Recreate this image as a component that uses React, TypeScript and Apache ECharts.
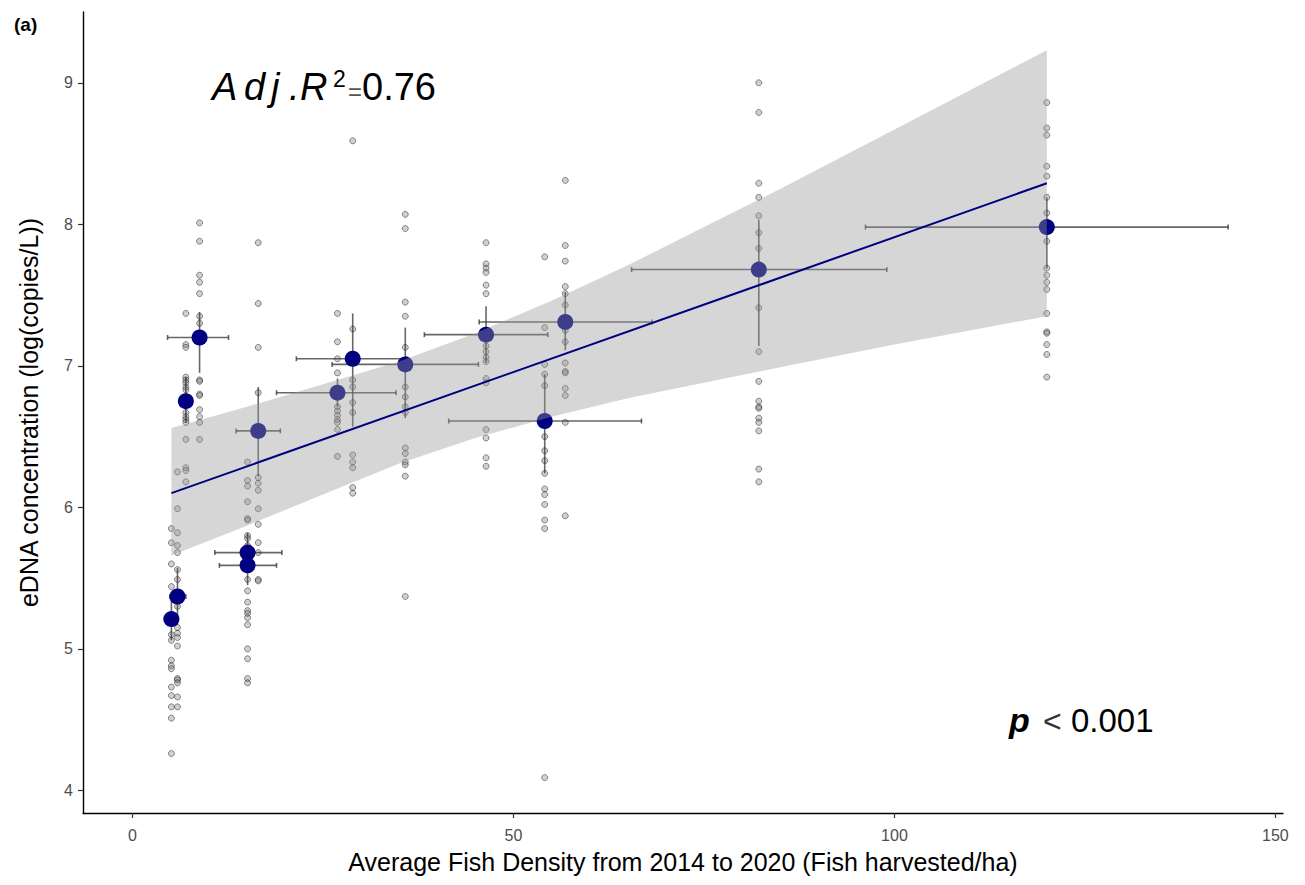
import React, { useEffect, useRef } from "react";
import * as echarts from "echarts";

const FONT = "Liberation Sans, Arial, sans-serif";

const xTicks = [0, 50, 100, 150];
const yTicks = [4, 5, 6, 7, 8, 9];

// site means and error bars
const siteX = [5.1, 5.9, 7.0, 8.8, 15.1, 15.1, 16.5, 26.9, 28.9, 35.8, 46.4, 54.1, 56.8, 82.2, 120];
const siteMean = [5.21, 5.37, 6.75, 7.2, 5.68, 5.59, 6.54, 6.81, 7.05, 7.01, 7.22, 6.61, 7.31, 7.68, 7.98];
const siteXLow = [4.2, 4.9, 6.5, 4.6, 10.8, 11.4, 13.6, 18.9, 21.5, 26.2, 38.3, 41.5, 45.5, 65.5, 96.2];
const siteXHigh = [6.0, 7.0, 7.5, 12.6, 19.6, 18.9, 19.4, 34.6, 36.0, 45.4, 54.5, 66.8, 68.2, 99.0, 143.8];
const siteYLow = [5.06, 5.17, 6.6, 6.95, 5.54, 5.45, 6.22, 6.71, 6.57, 6.63, 7.02, 6.24, 7.11, 7.14, 7.69];
const siteYHigh = [5.36, 5.57, 6.92, 7.38, 5.82, 5.73, 6.85, 6.91, 7.37, 7.27, 7.42, 6.94, 7.52, 8.03, 8.19];

// raw sample values per column
const rawX = [5.1, 5.9, 7.0, 8.8, 15.1, 16.5, 26.9, 28.9, 35.8, 46.4, 54.1, 56.8, 82.2, 120];
const rawY = [
  [5.85, 5.75, 5.6, 5.44, 5.2, 5.1, 5.06, 4.92, 4.88, 4.86, 4.73, 4.67, 4.59, 4.51, 4.26],
  [6.25, 5.99, 5.82, 5.73, 5.68, 5.56, 5.49, 5.3, 5.15, 5.11, 5.08, 5.02, 4.79, 4.78, 4.76, 4.66, 4.59],
  [7.37, 7.15, 7.13, 6.92, 6.9, 6.88, 6.85, 6.83, 6.67, 6.64, 6.62, 6.6, 6.48, 6.28, 6.26, 6.18],
  [8.01, 7.88, 7.64, 7.59, 7.51, 7.35, 7.3, 6.9, 6.89, 6.8, 6.79, 6.69, 6.64, 6.6, 6.48],
  [6.32, 6.19, 6.15, 6.04, 5.92, 5.91, 5.8, 5.78, 5.73, 5.65, 5.49, 5.41, 5.33, 5.27, 5.25, 5.22, 5.17, 5.0, 4.93, 4.79, 4.76],
  [7.87, 7.44, 7.13, 6.81, 6.21, 6.17, 6.12, 5.99, 5.88, 5.75, 5.68, 5.49, 5.48],
  [7.37, 7.17, 7.05, 6.95, 6.71, 6.68, 6.65, 6.62, 6.6, 6.55, 6.36],
  [8.59, 7.26, 6.9, 6.85, 6.74, 6.67, 6.37, 6.32, 6.28, 6.14, 6.1],
  [8.07, 7.97, 7.45, 7.35, 7.13, 6.85, 6.78, 6.71, 6.67, 6.42, 6.38, 6.32, 6.3, 6.22, 5.37],
  [7.87, 7.72, 7.69, 7.66, 7.57, 7.51, 7.14, 7.1, 7.06, 7.03, 6.91, 6.88, 6.55, 6.49, 6.35, 6.29],
  [7.77, 7.27, 7.01, 6.94, 6.86, 6.5, 6.4, 6.33, 6.24, 6.13, 6.09, 6.02, 5.91, 5.85, 4.09],
  [8.31, 7.85, 7.74, 7.56, 7.51, 7.43, 7.34, 7.25, 7.17, 7.02, 6.96, 6.95, 6.84, 6.79, 6.6, 5.94],
  [9.0, 8.79, 8.29, 8.19, 8.06, 7.94, 7.83, 7.41, 7.1, 6.89, 6.75, 6.71, 6.7, 6.63, 6.6, 6.54, 6.27, 6.18],
  [8.86, 8.68, 8.63, 8.41, 8.34, 8.19, 8.08, 7.88, 7.69, 7.64, 7.59, 7.54, 7.37, 7.24, 7.23, 7.15, 7.08, 6.92],
];

// fitted line and confidence band
const fitX = [5.1, 120];
const fitY = [6.1, 8.29];
const ribX = [5.1, 15, 25, 35, 45, 55, 65, 75, 85, 100, 120];
const ribLo = [5.66, 5.87, 6.09, 6.31, 6.49, 6.64, 6.77, 6.88, 6.99, 7.15, 7.35];
const ribHi = [6.56, 6.71, 6.87, 7.03, 7.23, 7.46, 7.71, 7.98, 8.25, 8.67, 9.23];

const xAxisTitle = "Average Fish Density from 2014 to 2020 (Fish harvested/ha)";
const yAxisTitle = "eDNA concentration (log(copies/L))";

function t(text: string, x: number, y: number, fontSize: number, extra: any = {}) {
  return {
    type: "text",
    x,
    y,
    style: { text, fontSize, fontFamily: FONT, fill: "#000", verticalAlign: "middle", align: "left", ...extra },
  };
}

export default function App() {
  const ref = useRef<HTMLDivElement>(null);
  useEffect(() => {
    if (!ref.current) return;
    const chart = echarts.init(ref.current, null, { renderer: "svg" });

    const rawData: number[][] = [];
    rawX.forEach((x, i) => rawY[i].forEach((y) => rawData.push([x, y])));
    const meanData = siteX.map((x, i) => [x, siteMean[i]]);
    const barData = siteX.map((x, i) => [x, siteMean[i], siteXLow[i], siteXHigh[i], siteYLow[i], siteYHigh[i]]);
    const fitData = fitX.map((x, i) => [x, fitY[i]]);

    const barStyle = { stroke: "rgba(45,45,45,0.72)", lineWidth: 1.6 };

    const option: any = {
      animation: false,
      backgroundColor: "#ffffff",
      grid: { left: 83, right: 22, top: 12, bottom: 72, containLabel: false, outerBoundsMode: "none" },
      xAxis: {
        type: "value",
        min: -6.5,
        max: 151,
        splitLine: { show: false },
        axisLine: { show: true, onZero: false, lineStyle: { color: "#000", width: 1.4 } },
        axisTick: { show: true, length: 5, customValues: xTicks, lineStyle: { color: "#333", width: 1.2 } },
        axisLabel: { customValues: xTicks, color: "#4d4d4d", fontSize: 16, margin: 14, fontFamily: FONT },
        name: xAxisTitle,
        nameLocation: "middle",
        nameGap: 36,
        nameTextStyle: { fontSize: 25, color: "#000", fontFamily: FONT },
      },
      yAxis: {
        type: "value",
        min: 3.84,
        max: 9.5,
        splitLine: { show: false },
        axisLine: { show: true, onZero: false, lineStyle: { color: "#000", width: 1.4 } },
        axisTick: { show: true, length: 5, customValues: yTicks, lineStyle: { color: "#333", width: 1.2 } },
        axisLabel: { customValues: yTicks, color: "#4d4d4d", fontSize: 16, margin: 10, fontFamily: FONT },
        name: yAxisTitle,
        nameLocation: "middle",
        nameGap: 42,
        nameTextStyle: { fontSize: 25, color: "#000", fontFamily: FONT },
      },
      series: [
        {
          type: "scatter",
          z: 2,
          data: rawData,
          symbol: "circle",
          symbolSize: 6,
          itemStyle: { color: "rgba(120,120,120,0.35)", borderColor: "rgba(0,0,0,0.42)", borderWidth: 1, opacity: 1 },
          silent: true,
        },
        {
          type: "custom",
          z: 3,
          data: barData,
          encode: { x: [0, 2, 3], y: [1, 4, 5] },
          renderItem: (params: any, api: any) => {
            const x = api.value(0), y = api.value(1);
            const l = api.coord([api.value(2), y]);
            const r = api.coord([api.value(3), y]);
            const b = api.coord([x, api.value(4)]);
            const tp = api.coord([x, api.value(5)]);
            return {
              type: "group",
              children: [
                { type: "line", shape: { x1: l[0], y1: l[1], x2: r[0], y2: r[1] }, style: barStyle },
                { type: "line", shape: { x1: l[0], y1: l[1] - 2.5, x2: l[0], y2: l[1] + 2.5 }, style: barStyle },
                { type: "line", shape: { x1: r[0], y1: r[1] - 2.5, x2: r[0], y2: r[1] + 2.5 }, style: barStyle },
                { type: "line", shape: { x1: tp[0], y1: tp[1], x2: b[0], y2: b[1] }, style: barStyle },
              ],
            };
          },
          silent: true,
        },
        {
          type: "scatter",
          z: 4,
          data: meanData,
          symbol: "circle",
          symbolSize: 16,
          itemStyle: { color: "#000080", opacity: 1 },
          silent: true,
        },
        {
          type: "custom",
          z: 5,
          data: [[ribX[0], ribLo[0]]],
          encode: { x: 0, y: 1 },
          renderItem: (params: any, api: any) => {
            const pts: number[][] = [];
            for (let i = 0; i < ribX.length; i++) pts.push(api.coord([ribX[i], ribHi[i]]));
            for (let i = ribX.length - 1; i >= 0; i--) pts.push(api.coord([ribX[i], ribLo[i]]));
            return { type: "polygon", shape: { points: pts }, style: { fill: "rgba(153,153,153,0.4)" } };
          },
          silent: true,
        },
        {
          type: "line",
          z: 6,
          data: fitData,
          symbol: "none",
          lineStyle: { color: "#000080", width: 2 },
          silent: true,
        },
      ],
      graphic: [
        t("(a)", 14, 24, 19, { fontWeight: "bold" }),
        t("A", 212, 87, 38, { fontStyle: "italic" }),
        t("d", 244, 87, 38, { fontStyle: "italic" }),
        t("j", 271, 87, 38, { fontStyle: "italic" }),
        t(".", 289, 87, 38, { fontStyle: "italic" }),
        t("R", 300, 87, 38, { fontStyle: "italic" }),
        t("2", 333, 79, 23),
        t("=", 348, 91, 24, { fill: "#555" }),
        t("0.76", 362, 87, 38),
        t("p", 1009, 720, 34, { fontStyle: "italic", fontWeight: "bold" }),
        t("<", 1043, 721, 32, { fill: "#333" }),
        t("0.001", 1071, 720, 33),
      ],
    };
    chart.setOption(option);
    return () => chart.dispose();
  }, []);
  return (
    <div
      ref={ref}
      style={{ position: "fixed", left: 0, top: 0, width: 1305, height: 885, background: "#fff" }}
    />
  );
}
